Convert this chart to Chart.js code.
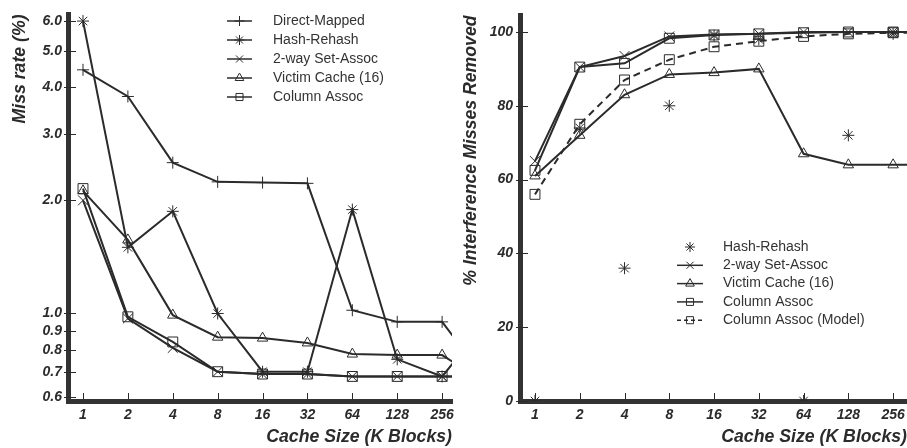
<!DOCTYPE html>
<html><head><meta charset="utf-8">
<script src="https://cdn.jsdelivr.net/npm/chart.js@4/dist/chart.umd.min.js"></script>
<style>
html,body{margin:0;padding:0;background:#fff;}
#wrap{position:relative;width:907px;height:448px;overflow:hidden;background:#fff;}
#c1{position:absolute;left:0;top:0;}
#c2{position:absolute;left:455px;top:0;}
</style></head><body>
<div id="wrap"><canvas id="c1" width="455" height="448"></canvas><canvas id="c2" width="452" height="448"></canvas></div>
<script>
// ---- categories (cache size, K blocks); last one only partly visible at the right edge
const cacheSizes = ['1','2','4','8','16','32','64','128','256','512'];

// ---- left panel: miss rate (%)
const missDirectMapped = [4.45, 3.78, 2.52, 2.24, 2.23, 2.22, 1.02, 0.95, 0.95, 0.66];
const missHashRehash   = [6.0, 1.50, 1.87, 1.00, 0.70, 0.70, 1.89, 0.755, 0.68, 0.95];
const missTwoWay       = [2.0, 0.97, 0.81, 0.70, 0.69, 0.69, 0.68, 0.68, 0.68, 0.68];
const missVictim       = [2.12, 1.57, 0.99, 0.865, 0.86, 0.835, 0.78, 0.775, 0.775, 0.65];
const missColumn       = [2.15, 0.98, 0.84, 0.70, 0.69, 0.69, 0.68, 0.68, 0.68, 0.68];
const missTicks = [0.6, 0.7, 0.8, 0.9, 1.0, 2.0, 3.0, 4.0, 5.0, 6.0];

// ---- right panel: % interference misses removed
const remHashRehash = [0, 74, 36, 80, 99, 98, 0, 72, 99.5];
const remTwoWay     = [65, 90.5, 93.5, 98.8, 99.3, 99.5, 100, 100, 100, 100];
const remVictim     = [61, 72, 83, 88.5, 89, 90, 67, 64, 64, 64];
const remColumn     = [62.5, 90.5, 91.5, 98.3, 99.2, 99.5, 99.8, 100, 100, 100];
const remModel      = [56, 75, 87, 92.5, 96, 97.5, 98.8, 99.5, 99.8, 99.9];
const remTicks = [0, 20, 40, 60, 80, 100];

const INK = '#2b2b2b';
const FAMILY = "'Liberation Sans', Arial, Helvetica, sans-serif";
const tickFont = {family: FAMILY, size: 14, weight: 'bold', style: 'italic'};
const titleFont = {family: FAMILY, size: 17.7, weight: 'bold', style: 'italic'};

function ds(label, values, pointStyle, radius, extra) {
  return Object.assign({
    label, data: values.map((v, i) => ({x: i, y: v})),
    pointStyle, pointRadius: radius, pointHoverRadius: radius,
    pointBorderWidth: 1, pointBorderColor: INK, pointBackgroundColor: 'rgba(0,0,0,0)',
    borderColor: INK, borderWidth: 2, tension: 0, fill: false
  }, extra || {});
}

const inTicks = {
  id: 'inTicks',
  afterDraw(chart) {
    const {ctx, chartArea, scales} = chart;
    ctx.save();
    ctx.strokeStyle = INK; ctx.lineWidth = 1;
    ctx.beginPath();
    scales.x.ticks.forEach(t => {
      const px = Math.round(scales.x.getPixelForValue(t.value)) + 0.5;
      ctx.moveTo(px, chartArea.bottom - 2); ctx.lineTo(px, chartArea.bottom - 8);
    });
    scales.y.ticks.forEach(t => {
      const py = Math.round(scales.y.getPixelForValue(t.value)) + 0.5;
      ctx.moveTo(chartArea.left - 4, py); ctx.lineTo(chartArea.left + 8, py);
    });
    ctx.stroke();
    ctx.restore();
  }
};

const sampleLegend = {
  id: 'sampleLegend',
  afterDraw(chart, args, opts) {
    if (!opts || !opts.rows) return;
    const ctx = chart.ctx;
    ctx.save();
    opts.rows.forEach((idx, i) => {
      const d = chart.data.datasets[idx];
      const y = opts.y + i * opts.step;
      const cx = opts.x + opts.w / 2;
      if (d.showLine !== false) {
        ctx.strokeStyle = d.borderColor; ctx.lineWidth = 1.5;
        ctx.setLineDash(d.borderDash ? [4, 3] : []);
        ctx.beginPath(); ctx.moveTo(opts.x, y); ctx.lineTo(opts.x + opts.w, y); ctx.stroke();
        ctx.setLineDash([]);
      }
      ctx.strokeStyle = INK; ctx.fillStyle = 'rgba(0,0,0,0)'; ctx.lineWidth = 1;
      Chart.helpers.drawPoint(ctx, {pointStyle: d.pointStyle, radius: opts.r, borderWidth: 1, rotation: 0}, cx, y);
      ctx.fillStyle = '#333';
      ctx.font = '14px ' + FAMILY;
      ctx.textBaseline = 'middle'; ctx.textAlign = 'left';
      ctx.fillText(d.label, opts.textX, y);
    });
    ctx.restore();
  }
};

function xScale(min, max, height) {
  return {
    type: 'linear', min, max,
    afterBuildTicks: s => { s.ticks = cacheSizes.slice(0, 9).map((_, i) => ({value: i})); },
    ticks: {callback: v => cacheSizes[v], font: tickFont, color: INK, padding: 6, maxRotation: 0, autoSkip: false},
    grid: {display: false, drawTicks: false},
    border: {display: true, width: 5, color: '#333'},
    title: {display: true, text: 'Cache Size (K Blocks)', align: 'end', font: titleFont, color: INK, padding: {top: 0, bottom: 0}},
    afterFit: s => { s.height = height; s.paddingLeft = 0; s.paddingRight = 0; }
  };
}

new Chart(document.getElementById('c1'), {
  type: 'line',
  data: {datasets: [
    ds('Direct-Mapped', missDirectMapped, 'cross', 6),
    ds('Hash-Rehash', missHashRehash, 'star', 6),
    ds('2-way Set-Assoc', missTwoWay, 'crossRot', 7),
    ds('Victim Cache (16)', missVictim, 'triangle', 6),
    ds('Column Assoc', missColumn, 'rect', 7)
  ]},
  options: {
    responsive: false, animation: false, events: [],
    layout: {autoPadding: false, padding: {top: 13, right: 3, left: 0, bottom: 0}},
    plugins: {legend: {display: false}, tooltip: {enabled: false},
      sampleLegend: {rows: [0, 1, 2, 3, 4], x: 227, w: 25, y: 21, step: 19, r: 5, textX: 273}},
    scales: {
      x: xScale(-0.334, 8.22, 47),
      y: {
        type: 'logarithmic', min: 0.585, max: 6.25,
        afterBuildTicks: s => { s.ticks = missTicks.map(v => ({value: v})); },
        ticks: {callback: v => Number(v).toFixed(1), font: tickFont, color: INK, padding: 6},
        grid: {display: false, drawTicks: false},
        border: {display: true, width: 5, color: '#333'},
        title: {display: true, text: 'Miss rate (%)', align: 'end', font: titleFont, color: INK, padding: {top: 9, bottom: 0}},
        afterFit: s => { s.width = 68; }
      }
    }
  },
  plugins: [inTicks, sampleLegend]
});

new Chart(document.getElementById('c2'), {
  type: 'line',
  data: {datasets: [
    ds('Hash-Rehash', remHashRehash, 'star', 6, {showLine: false}),
    ds('2-way Set-Assoc', remTwoWay, 'crossRot', 7),
    ds('Victim Cache (16)', remVictim, 'triangle', 6),
    ds('Column Assoc', remColumn, 'rect', 7),
    ds('Column Assoc (Model)', remModel, 'rect', 7, {borderDash: [7, 5]})
  ]},
  options: {
    responsive: false, animation: false, events: [],
    layout: {autoPadding: false, padding: {top: 13, right: 0, left: 0, bottom: 0}},
    plugins: {legend: {display: false}, tooltip: {enabled: false},
      sampleLegend: {rows: [0, 1, 2, 3, 4], x: 222, w: 26, y: 247, step: 18.3, r: 5, textX: 268}},
    scales: {
      x: xScale(-0.335, 8.31, 47),
      y: {
        type: 'linear', min: 0, max: 104.5,
        afterBuildTicks: s => { s.ticks = remTicks.map(v => ({value: v})); },
        ticks: {callback: v => String(v), font: tickFont, color: INK, padding: 7},
        grid: {display: false, drawTicks: false},
        border: {display: true, width: 5, color: '#333'},
        title: {display: true, text: '% Interference Misses Removed', align: 'end', font: titleFont, color: INK, padding: {top: 5, bottom: 0}},
        afterFit: s => { s.width = 65; }
      }
    }
  },
  plugins: [inTicks, sampleLegend]
});
</script>
</body></html>
